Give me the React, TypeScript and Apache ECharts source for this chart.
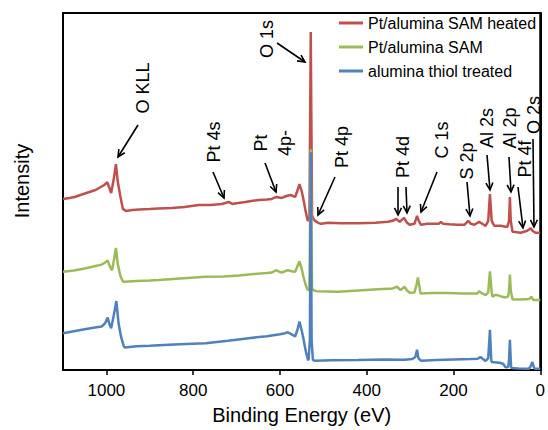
import React, { useEffect, useRef } from "react";
import * as echarts from "echarts";

const seriesNames = ["Pt/alumina SAM heated", "Pt/alumina SAM", "alumina thiol treated"];
const seriesColors = ["#C0504D", "#9BBB59", "#4F81BD"];
const xTickValues = [0, 200, 400, 600, 800, 1000];

// [binding energy (eV), intensity (a.u., offset)]
const heatedData = [
  [1100, 172], [1085, 173], [1073, 174], [1060, 176], [1039, 179], [1025, 181], [1017, 183], [1005, 186],
  [998, 189], [993, 183], [989, 178], [983, 192], [978, 207], [974, 190], [968, 175], [962, 162], [955, 160],
  [940, 161], [924, 161.5], [900, 162], [880, 162.5], [849, 163], [820, 164], [787, 166], [760, 166],
  [734, 167], [718, 169], [710, 167], [704, 167.5], [680, 169], [649, 171], [630, 171.5], [619, 172],
  [608, 174], [596, 173], [585, 175], [576, 176], [565, 174], [560, 180], [555, 187], [550, 180], [546, 172],
  [541, 160], [536, 150], [532, 152], [529, 340], [526, 156], [523, 152], [519, 150], [512, 148], [505, 147],
  [489, 148], [460, 147.5], [420, 147.5], [380, 148], [351, 149], [340, 150], [332, 152], [324, 149],
  [314, 153], [307, 148], [301, 146], [290, 147], [284, 155], [280, 150], [275, 146], [260, 147], [248, 147],
  [234, 147], [229, 149], [224, 147], [210, 146.5], [190, 146], [175, 146], [166, 150], [160, 147], [152, 146],
  [141, 149], [130, 146], [126, 145], [120, 150], [116, 177], [112, 150], [106, 145], [91, 145], [80, 144],
  [76, 144], [72, 150], [70, 174], [68, 150], [64, 139], [45, 138], [30, 140], [22, 142.5], [18, 140],
  [11, 138], [0, 138],
];

const samData = [
  [1100, 98.7], [1075, 100], [1050, 102], [1030, 104], [1011, 106], [1003, 108], [997, 110.3], [992, 104],
  [987, 100.3], [982, 112], [978, 122.7], [974, 107], [968, 95], [962, 89], [958, 88.7], [930, 89.5],
  [900, 90], [879, 90.5], [830, 92], [771, 93.7], [730, 94], [695, 95], [660, 96.5], [630, 97.5], [619, 98],
  [609, 100.3], [596, 98], [582, 100.3], [570, 99], [565, 98.7], [560, 104], [555, 109.3], [550, 102],
  [546, 94], [541, 86], [536, 80.3], [532, 81], [529, 222], [526, 82], [522, 80], [515, 79.3], [490, 79],
  [466, 78.7], [420, 80], [374, 81.3], [340, 82], [330, 83.7], [322, 80.3], [313, 83.7], [307, 80],
  [301, 77.7], [290, 78], [285, 86], [282, 93], [279, 85], [276, 77], [250, 77.5], [213, 77.5], [180, 77],
  [145, 77], [141, 79.3], [134, 77], [126, 75.3], [120, 78], [116, 99.3], [112, 78], [110, 73.7],
  [104, 75.5], [99, 75.3], [90, 74], [80, 73], [74, 74], [72, 80], [70, 96], [68, 80], [64, 71], [45, 71],
  [26, 71.3], [22, 73], [20, 73.7], [17, 71], [14, 70.3], [0, 70.3],
];

const thiolData = [
  [1100, 37], [1075, 39], [1050, 41], [1030, 42.5], [1011, 43.7], [1003, 47], [997, 52.7], [993, 46],
  [989, 42], [983, 55], [977, 69.3], [972, 47], [966, 33], [960, 24], [958, 22.7], [930, 24], [900, 24.5],
  [879, 25], [830, 26], [771, 27], [720, 29.5], [672, 32], [630, 34], [600, 36], [588, 37], [582, 38],
  [574, 36], [565, 33.7], [560, 40], [555, 48.7], [550, 40], [546, 32], [541, 20], [536, 11], [534, 10],
  [531, 30], [529, 219], [527, 30], [524, 10], [519, 9.3], [480, 9.8], [420, 10], [360, 10.5], [313, 10.3],
  [295, 11], [288, 13], [284, 20.3], [281, 12], [274.5, 9.3], [240, 10], [200, 10.5], [160, 11],
  [144.5, 11.3], [138, 13], [132, 11], [126, 9], [120, 12], [116, 40.3], [113, 10], [112, 8], [100, 7.5],
  [91, 7], [85, 6], [80, 2.7], [74, 3], [72, 10], [70, 30.3], [68, 10], [67, 2], [50, 1.5], [26, 1.3],
  [22, 4], [18, 8], [15, 3], [13, 1.3], [0, 1.3],
];

const seriesData = [heatedData, samData, thiolData];

// peak annotations: label, label centre, arrow start and arrow tip (pixels)
const annotationLabels = ["O KLL", "O 1s", "Pt 4s", "Pt\n4p-", "Pt 4p", "Pt 4d", "C 1s", "S 2p", "Al 2s", "Al 2p", "Pt 4f", "O 2s"];
const annotationCentres = [
  [143, 88], [267, 39], [214, 142], [273, 143], [342, 147], [403, 157], [442, 140], [467, 161],
  [487, 128], [510, 128], [525, 159], [534, 115],
];
const arrowLines = [
  [138, 125, 118, 157], [277, 43, 305, 62], [213, 172, 224, 198], [265, 163, 276, 192],
  [335, 177, 318, 215], [398, 187, 398, 215], [406, 187, 407, 213], [437, 172, 421, 212],
  [467, 182, 470, 216], [487, 155, 490, 190], [509, 157, 511, 192], [518, 187, 523, 228],
  [533, 139, 534, 227],
];

const FONT = "'Liberation Sans', Arial, Helvetica, sans-serif";

function arrowElements(a: number[]) {
  const [x1, y1, x2, y2] = a;
  const ang = Math.atan2(y2 - y1, x2 - x1);
  const len = 8;
  const spread = 0.45;
  const p1 = [x2 - len * Math.cos(ang - spread), y2 - len * Math.sin(ang - spread)];
  const p2 = [x2 - len * Math.cos(ang + spread), y2 - len * Math.sin(ang + spread)];
  return [
    { type: "line", z: 100, shape: { x1, y1, x2, y2 }, style: { stroke: "#000", lineWidth: 1.6 } },
    { type: "polyline", z: 100, shape: { points: [p1, [x2, y2], p2] }, style: { stroke: "#000", lineWidth: 1.6, fill: null } },
  ];
}

export default function App() {
  const ref = useRef<HTMLDivElement>(null);
  useEffect(() => {
    document.body.style.margin = "0";
    if (!ref.current) return;
    const chart = echarts.init(ref.current, null, { renderer: "svg" });
    const graphics: any[] = [];
    annotationLabels.forEach((t, i) => {
      graphics.push({
        type: "text",
        z: 100,
        x: annotationCentres[i][0],
        y: annotationCentres[i][1],
        rotation: Math.PI / 2,
        style: {
          text: t,
          fontSize: 18,
          fontFamily: FONT,
          fill: "#000",
          align: "center",
          verticalAlign: "middle",
          lineHeight: 24,
        },
      });
    });
    arrowLines.forEach((a) => graphics.push(...arrowElements(a)));
    graphics.push({
      type: "text",
      z: 100,
      x: 22,
      y: 181,
      rotation: Math.PI / 2,
      style: { text: "Intensity", fontSize: 20, fontFamily: FONT, fill: "#000", align: "center", verticalAlign: "middle" },
    });

    chart.setOption({
      animation: false,
      textStyle: { fontFamily: FONT },
      grid: { left: 63, right: 4, top: 13, bottom: 58, show: true, borderColor: "#000", borderWidth: 2, backgroundColor: "transparent" },
      legend: {
        orient: "vertical",
        left: 339,
        top: 14,
        padding: 0,
        itemGap: 6,
        icon: "rect",
        itemWidth: 24,
        itemHeight: 3,
        data: seriesNames,
        textStyle: { fontSize: 16, color: "#000", fontFamily: FONT, lineHeight: 18 },
      },
      xAxis: {
        type: "value",
        min: 0,
        max: 1100,
        interval: 200,
        inverse: true,
        name: "Binding Energy (eV)",
        nameLocation: "middle",
        nameGap: 35,
        nameTextStyle: { fontSize: 20, color: "#000", fontFamily: FONT },
        axisLine: { show: true, lineStyle: { color: "#000", width: 2 } },
        axisTick: { show: true, inside: false, length: 5, lineStyle: { color: "#000", width: 1.5 }, customValues: xTickValues },
        axisLabel: {
          fontSize: 17,
          color: "#000",
          margin: 12,
          fontFamily: FONT,
          customValues: xTickValues,
          hideOverlap: false,
          formatter: (v: number) => String(v),
        },
        splitLine: { show: false },
      },
      yAxis: {
        type: "value",
        min: 0,
        max: 359,
        axisLine: { show: true, lineStyle: { color: "#000", width: 2 } },
        axisTick: { show: false },
        axisLabel: { show: false },
        splitLine: { show: false },
      },
      series: seriesData.map((d, i) => ({
        name: seriesNames[i],
        type: "line",
        data: d,
        showSymbol: false,
        symbol: "none",
        color: seriesColors[i],
        lineStyle: { color: seriesColors[i], width: 2.5 },
        z: 2 + i,
      })),
      graphic: graphics,
    });
    return () => chart.dispose();
  }, []);
  return <div ref={ref} style={{ width: 548, height: 430 }} />;
}
